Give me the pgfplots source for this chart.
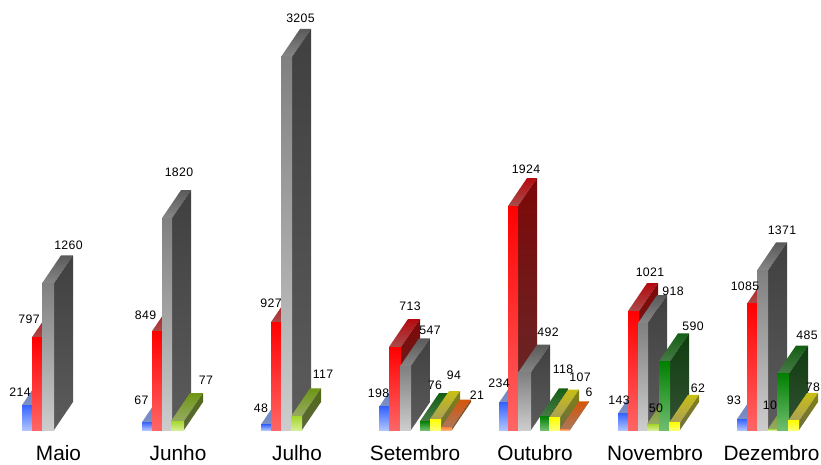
\documentclass[border=0pt]{standalone}
\usepackage{fontspec}
\setmainfont{Liberation Sans}
\newfontface\valfont[LetterSpace=3]{Liberation Sans}
\usepackage{pgfplots}
\pgfplotsset{compat=1.18}

% front top/bottom, side top/bottom, top-face back/front
\definecolor{blueFt}{RGB}{55,100,255}\definecolor{blueFb}{RGB}{175,195,255}
\definecolor{blueSt}{RGB}{40,60,130}\definecolor{blueSb}{RGB}{70,85,130}
\definecolor{blueTb}{RGB}{95,120,205}\definecolor{blueTf}{RGB}{125,145,195}
\definecolor{redFt}{RGB}{255,0,0}\definecolor{redFb}{RGB}{255,102,102}
\definecolor{redSt}{RGB}{125,8,8}\definecolor{redSb}{RGB}{100,45,45}
\definecolor{redTb}{RGB}{180,10,15}\definecolor{redTf}{RGB}{170,75,75}
\definecolor{grayFt}{RGB}{128,128,128}\definecolor{grayFb}{RGB}{205,205,205}
\definecolor{graySt}{RGB}{64,64,64}\definecolor{graySb}{RGB}{92,92,92}
\definecolor{grayTb}{RGB}{90,90,90}\definecolor{grayTf}{RGB}{135,135,135}
\definecolor{limeFt}{RGB}{165,215,45}\definecolor{limeFb}{RGB}{212,238,145}
\definecolor{limeSt}{RGB}{80,105,25}\definecolor{limeSb}{RGB}{92,105,60}
\definecolor{limeTb}{RGB}{110,150,20}\definecolor{limeTf}{RGB}{150,170,100}
\definecolor{greenFt}{RGB}{0,128,0}\definecolor{greenFb}{RGB}{112,190,112}
\definecolor{greenSt}{RGB}{15,60,15}\definecolor{greenSb}{RGB}{52,82,52}
\definecolor{greenTb}{RGB}{20,95,20}\definecolor{greenTf}{RGB}{72,122,72}
\definecolor{yellowFt}{RGB}{255,255,0}\definecolor{yellowFb}{RGB}{255,255,115}
\definecolor{yellowSt}{RGB}{130,130,20}\definecolor{yellowSb}{RGB}{110,110,65}
\definecolor{yellowTb}{RGB}{200,190,20}\definecolor{yellowTf}{RGB}{170,160,85}
\definecolor{orangeFt}{RGB}{255,140,60}\definecolor{orangeFb}{RGB}{255,175,125}
\definecolor{orangeSt}{RGB}{130,70,20}\definecolor{orangeSb}{RGB}{120,90,60}
\definecolor{orangeTb}{RGB}{215,85,10}\definecolor{orangeTf}{RGB}{170,120,90}

% left, right, value, colour, label x (px), label y (px from top)
\newcommand{\tdbar}[6]{%
  \pgfmathsetmacro{\xa}{#1+19}%
  \pgfmathsetmacro{\xb}{#2+19}%
  \pgfmathsetmacro{\yb}{#3+240.5}%
  \pgfmathsetmacro{\ly}{(430-#6)/0.1164}%
  \addplot[draw=none, forget plot, bottom color=#4Tf, top color=#4Tb]
    coordinates {(#1,#3) (\xa,\yb) (\xb,\yb) (#2,#3)} -- cycle;
  \addplot[draw=none, forget plot, bottom color=#4Sb, top color=#4St]
    coordinates {(#2,0) (\xb,240.5) (\xb,\yb) (#2,#3)} -- cycle;
  \addplot[draw=none, forget plot, bottom color=#4Fb, top color=#4Ft]
    coordinates {(#1,0) (#2,0) (#2,#3) (#1,#3)} -- cycle;
  \addplot[draw=none, forget plot, mark=none, nodes near coords={#3},
    every node near coord/.append style={anchor=center, inner sep=0pt, yshift=0pt,
      font=\valfont\fontsize{12.3}{14}\selectfont, text=black}]
    coordinates {(#5,\ly)};
}

\begin{document}
\begin{tikzpicture}
\clip[use as bounding box] (0,0) rectangle (821pt,464pt);
\begin{axis}[
    at={(0,0)}, anchor=south west,
    scale only axis,
    width=821pt, height=464pt,
    xmin=0, xmax=821,
    ymin=-292.1, ymax=3694.2,
    axis line style={draw=none},
    tick style={draw=none},
    ytick=\empty,
    xtick={58.5,178,297,415,535,655,771.5},
    xticklabels={Maio,Junho,Julho,Setembro,Outubro,Novembro,Dezembro},
    xticklabel style={anchor=center, yshift=11pt, inner sep=0pt,
      font=\fontsize{20.8}{24}\selectfont, text height=15pt, text depth=0pt},
    clip=false,
  ]
% Maio
\tdbar{22}{32}{214}{blue}{20}{392}
\tdbar{32}{42}{797}{red}{29}{319}
\tdbar{42}{54}{1260}{gray}{68.5}{245}
% Junho
\tdbar{142}{152}{67}{blue}{141.5}{400}
\tdbar{152}{162}{849}{red}{145.5}{315}
\tdbar{162}{172}{1820}{gray}{179}{172}
\tdbar{171}{184}{77}{lime}{206}{380}
% Julho
\tdbar{261}{271}{48}{blue}{261}{408}
\tdbar{271}{281}{927}{red}{271}{303}
\tdbar{281}{292}{3205}{gray}{300.5}{18}
\tdbar{291}{302}{117}{lime}{323}{374}
% Setembro
\tdbar{379}{389}{198}{blue}{378.5}{393}
\tdbar{389}{401}{713}{red}{410}{306}
\tdbar{400}{411}{547}{gray}{430}{330}
\tdbar{420}{430}{76}{green}{435}{385}
\tdbar{430}{441}{94}{yellow}{454}{375}
\tdbar{441}{452}{21}{orange}{477}{395}
% Outubro
\tdbar{499}{508}{234}{blue}{499}{383}
\tdbar{508}{518}{1924}{red}{526}{169}
\tdbar{518}{531}{492}{gray}{548}{332}
\tdbar{540}{549}{118}{green}{563}{369}
\tdbar{549}{560}{107}{yellow}{580}{377}
\tdbar{560}{570}{6}{orange}{589}{392}
% Novembro
\tdbar{618}{628}{143}{blue}{619}{400}
\tdbar{628}{639}{1021}{red}{650}{272}
\tdbar{638}{648}{918}{gray}{673}{291}
\tdbar{647}{659}{50}{lime}{656}{408}
\tdbar{659}{670}{590}{green}{693}{326}
\tdbar{669}{680}{62}{yellow}{698}{388}
% Dezembro
\tdbar{737}{747}{93}{blue}{734}{400}
\tdbar{747}{757}{1085}{red}{745}{286}
\tdbar{757}{768}{1371}{gray}{782}{230}
\tdbar{768}{777}{10}{lime}{770}{405}
\tdbar{777}{789}{485}{green}{807}{335}
\tdbar{788}{799}{78}{yellow}{813}{387}
\end{axis}
\end{tikzpicture}
\end{document}
